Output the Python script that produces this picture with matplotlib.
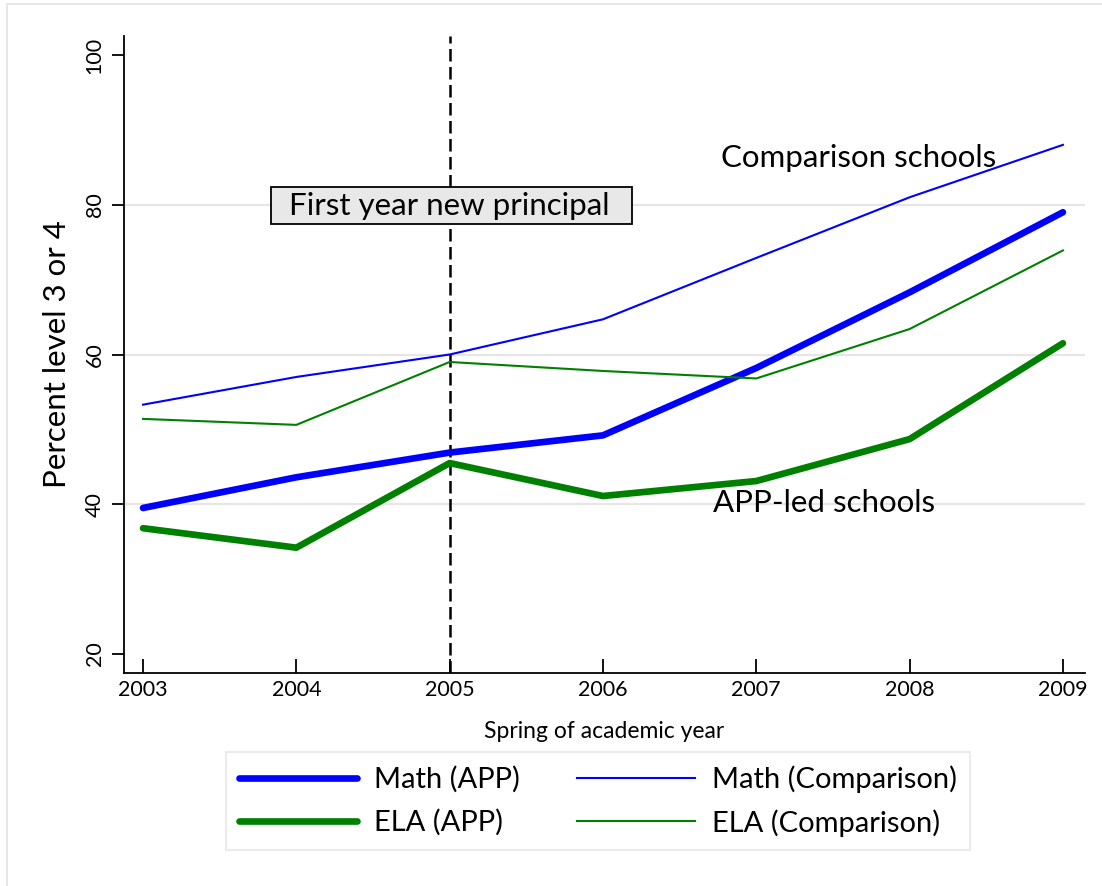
import matplotlib
matplotlib.use("Agg")
import matplotlib.pyplot as plt
from matplotlib.patches import Rectangle

years = [2003, 2004, 2005, 2006, 2007, 2008, 2009]
math_app = [39.5, 43.6, 46.9, 49.2, 58.2, 68.3, 79.0]
math_comp = [53.3, 57.0, 60.0, 64.7, 72.9, 81.0, 88.0]
ela_app = [36.8, 34.2, 45.5, 41.1, 43.1, 48.7, 61.5]
ela_comp = [51.4, 50.6, 59.0, 57.8, 56.8, 63.4, 73.9]
y_ticks = [20, 40, 60, 80, 100]
grid_vals = [40, 60, 80]
event_year = 2005

plt.rcParams['font.family'] = ['Lato', 'DejaVu Sans']

W, H = 1102, 886
fig = plt.figure(figsize=(W / 100, H / 100), dpi=100)
fig.patches.append(Rectangle((7 / W, -0.02), 1.1, 1 - 4 / H + 0.02,
                             transform=fig.transFigure, fill=False,
                             edgecolor='#e8e8e8', lw=1.5))

ax = fig.add_axes([124 / W, (H - 673) / H, (1085 - 124) / W, (673 - 36) / H])
ax.set_xlim(2002.876, 2009.144)
ax.set_ylim(17.46, 102.54)

for g in grid_vals:
    ax.axhline(g, color='#e6e6e6', lw=1.6, zorder=0)

blue = '#0000ff'
green = '#008000'
ax.plot(years, math_app, color=blue, lw=4.8, solid_capstyle='round', label='Math (APP)', zorder=3)
ax.plot(years, ela_app, color=green, lw=4.8, solid_capstyle='round', label='ELA (APP)', zorder=3)
ax.plot(years, math_comp, color=blue, lw=1.5, label='Math (Comparison)', zorder=3)
ax.plot(years, ela_comp, color=green, lw=1.5, label='ELA (Comparison)', zorder=3)

vl = ax.axvline(event_year, color='black', lw=1.8, zorder=2)
vl.set_dashes((5, 2.2))

# annotation box around "First year new principal"
ax.add_patch(Rectangle((2003.835, 77.4), 2.355, 4.94, facecolor='#e8e8e8',
                       edgecolor='black', lw=1.3, zorder=4))
ax.text(event_year, 79.85, 'First year new principal', ha='center', va='center',
        fontsize=22.5, zorder=5)
ax.text(2006.77, 86.2, 'Comparison schools', ha='left', va='center', fontsize=22.5, zorder=1)
ax.text(2006.72, 40.2, 'APP-led schools', ha='left', va='center', fontsize=22.5, zorder=1)

for s in ['top', 'right']:
    ax.spines[s].set_visible(False)
for s in ['left', 'bottom']:
    ax.spines[s].set_linewidth(1.3)

ax.set_yticks(y_ticks)
ax.set_yticklabels([str(v) for v in y_ticks], rotation=90, va='center', fontsize=15.5)
ax.tick_params(axis='y', direction='out', length=9, width=1.3, pad=5)
ax.set_xticks(years)
ax.set_xticklabels([str(y) for y in years], fontsize=15.5)
ax.tick_params(axis='x', direction='in', length=10, width=1.3, pad=5)

ax.set_ylabel('Percent level 3 or 4', fontsize=22.5, labelpad=10)
ax.set_xlabel('Spring of academic year', fontsize=16.5, labelpad=15)

handles, labels = ax.get_legend_handles_labels()
leg = fig.legend(handles, labels, ncol=2, loc='center',
                 bbox_to_anchor=(598 / W, 1 - 801 / H), fontsize=21,
                 frameon=True, fancybox=False, handlelength=4.05,
                 columnspacing=1.95, labelspacing=0.55, borderpad=0.45,
                 handletextpad=0.58)
leg.get_frame().set_edgecolor('#e6e6e6')
leg.get_frame().set_linewidth(1.5)

fig.savefig('out.png', dpi=100)
